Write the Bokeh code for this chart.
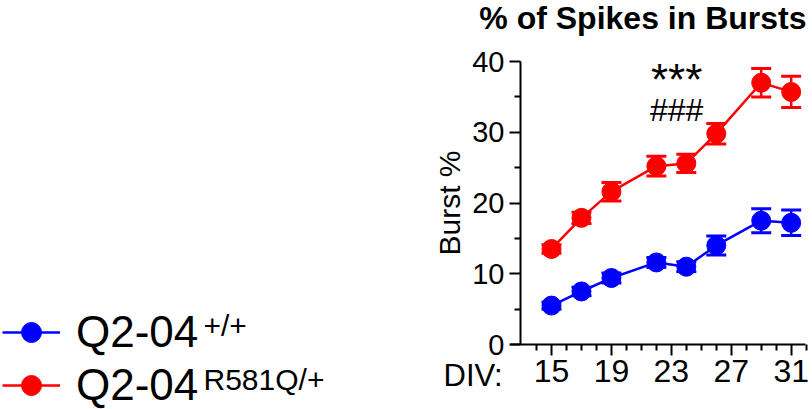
from bokeh.plotting import figure
from bokeh.models import (Range1d, FixedTicker, Label, Whisker, ColumnDataSource, TeeHead,
                          Legend, LegendItem)
from bokeh.embed import file_html
from bokeh.resources import INLINE

# ---------------- data ----------------
days = [15, 17, 19, 22, 24, 26, 29, 31]
wt_mean = [5.5, 7.5, 9.4, 11.6, 11.0, 14.0, 17.5, 17.2]
wt_sem = [0.5, 0.6, 0.7, 0.7, 0.7, 1.35, 1.7, 1.8]
mut_mean = [13.5, 17.9, 21.6, 25.2, 25.6, 29.8, 37.0, 35.7]
mut_sem = [0.6, 0.8, 1.3, 1.4, 1.3, 1.45, 2.0, 2.2]
x_ticks = [15, 19, 23, 27, 31]
x_minor = [14, 16, 17, 18, 20, 21, 22, 24, 25, 26, 28, 29, 30, 32]
y_ticks = [0, 10, 20, 30, 40]
y_minor = [5, 15, 25, 35]
series_names = ["Q2-04", "Q2-04"]
series_sup = ["+/+", "R581Q/+"]
colors = ["#0000FF", "#FF0000"]
title_text = "% of Spikes in Bursts"
y_label = "Burst %"
x_prefix = "DIV:"
stars = "***"
hashes = "###"

FONT = "Liberation Sans"

# axis geometry (data units): where the axes sit and how far they run
X_AXIS_START = 12.26
X_AXIS_END = 31.95
Y_AXIS_AT = 12.93
Y_AXIS_END = 40

p = figure(width=812, height=409,
           x_range=Range1d(-21.783, 32.423), y_range=Range1d(-9.187, 48.622),
           output_backend="svg", toolbar_location=None, min_border=0)
p.grid.visible = False
p.outline_line_color = None
p.background_fill_color = "white"
p.border_fill_color = "white"

xa = p.xaxis[0]
ya = p.yaxis[0]
xa.fixed_location = 0
ya.fixed_location = Y_AXIS_AT
xa.bounds = (X_AXIS_START, X_AXIS_END)
ya.bounds = (0, Y_AXIS_END)

for ax in (xa, ya):
    ax.axis_line_width = 2
    ax.axis_line_color = "black"
    ax.major_tick_line_width = 2
    ax.minor_tick_line_width = 2
    ax.major_tick_line_color = "black"
    ax.minor_tick_line_color = "black"
    ax.major_tick_in = 0
    ax.major_tick_out = 11
    ax.minor_tick_in = 0
    ax.minor_tick_out = 6
    ax.major_label_text_font = FONT
    ax.major_label_text_color = "black"

xa.ticker = FixedTicker(ticks=x_ticks, minor_ticks=x_minor)
ya.ticker = FixedTicker(ticks=y_ticks, minor_ticks=y_minor)
xa.major_label_text_font_size = "32px"
ya.major_label_text_font_size = "29px"
xa.major_label_standoff = 4
ya.major_label_standoff = 5
ya.axis_label = y_label
ya.axis_label_text_font = FONT
ya.axis_label_text_font_size = "30px"
ya.axis_label_text_font_style = "normal"
ya.axis_label_text_color = "black"
ya.axis_label_standoff = 3

items = []
for name, mean, sem, c in ((series_names[0], wt_mean, wt_sem, colors[0]),
                           (series_names[1], mut_mean, mut_sem, colors[1])):
    src = ColumnDataSource(dict(x=days, y=mean,
                                upper=[m + s for m, s in zip(mean, sem)],
                                lower=[m - s for m, s in zip(mean, sem)]))
    w = Whisker(base="x", upper="upper", lower="lower", source=src,
                line_color=c, line_width=2.5,
                upper_head=TeeHead(size=20, line_color=c, line_width=3),
                lower_head=TeeHead(size=20, line_color=c, line_width=3))
    p.add_layout(w)
    ln = p.line("x", "y", source=src, line_color=c, line_width=2.5)
    sc = p.scatter("x", "y", source=src, size=19, fill_color=c, line_color=c)
    items.append(LegendItem(label=name, renderers=[ln, sc]))

legend = Legend(items=items, location=(2, -1), orientation="vertical",
                glyph_width=58, glyph_height=50, label_height=50, spacing=3,
                label_standoff=16, padding=0, margin=0,
                label_text_font=FONT, label_text_font_size="44px", label_text_color="black",
                border_line_color=None, background_fill_alpha=0)
p.add_layout(legend)

# superscripts of the legend labels (screen px from bottom-left)
p.add_layout(Label(x=203, y=84, x_units="screen", y_units="screen", text=series_sup[0],
                   text_font=FONT, text_font_size="30px", text_color="black",
                   text_baseline="middle"))
p.add_layout(Label(x=203, y=30, x_units="screen", y_units="screen", text=series_sup[1],
                   text_font=FONT, text_font_size="30px", text_color="black",
                   text_baseline="middle"))

# significance marks
p.add_layout(Label(x=23.35, y=37.4, text=stars, text_font=FONT, text_font_size="44px",
                   text_align="center", text_baseline="middle", text_color="black"))
p.add_layout(Label(x=23.35, y=33.2, text=hashes, text_font=FONT, text_font_size="32px",
                   text_align="center", text_baseline="middle", text_color="black"))

# chart title and x-axis prefix
p.add_layout(Label(x=806, y=391.7, x_units="screen", y_units="screen", text=title_text,
                   text_font=FONT, text_font_size="32px", text_font_style="bold",
                   text_align="right", text_baseline="middle", text_color="black"))
p.add_layout(Label(x=443, y=34.4, x_units="screen", y_units="screen", text=x_prefix,
                   text_font=FONT, text_font_size="31px",
                   text_align="left", text_baseline="middle", text_color="black"))

open("out.html", "w").write(file_html(p, INLINE))
